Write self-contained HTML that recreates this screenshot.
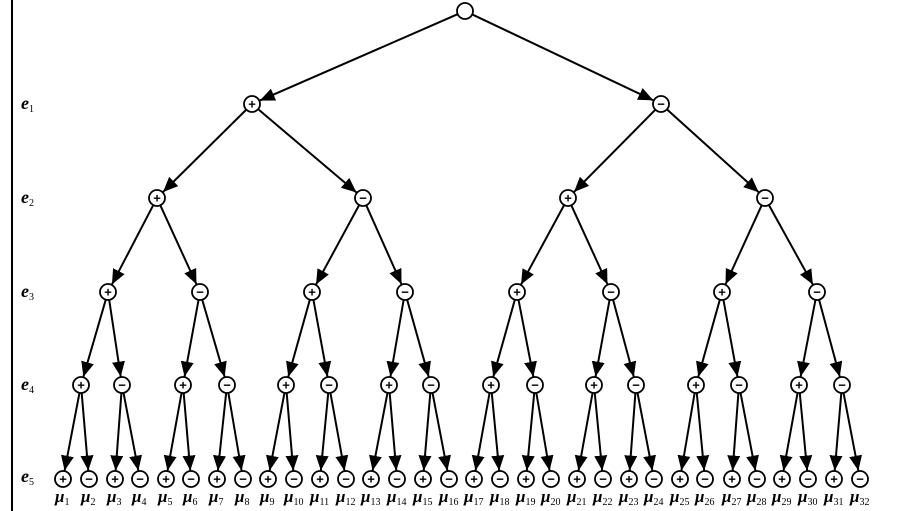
<!DOCTYPE html>
<html><head><meta charset="utf-8"><style>
html,body{margin:0;padding:0;background:#fff;}
svg{display:block;}
.e{font-family:"Liberation Serif",serif;font-weight:bold;font-style:italic;font-size:18px;}
.m{font-family:"Liberation Serif",serif;font-style:italic;font-weight:bold;font-size:17px;}
.s{font-size:10px;font-style:normal;font-weight:normal;}
</style></head><body>
<svg id="g" width="902" height="511" viewBox="0 0 902 511" xmlns="http://www.w3.org/2000/svg">
<defs><marker id="a" markerUnits="userSpaceOnUse" markerWidth="16" markerHeight="14" refX="15" refY="6.5" orient="auto"><path d="M0,0 L15,6.5 L0,13 z" fill="#000"/></marker></defs>
<line x1="12" y1="0" x2="12" y2="511" stroke="#000" stroke-width="2"/>
<text class="e" x="21" y="109">e<tspan class="s" dy="3">1</tspan></text>
<text class="e" x="21" y="203">e<tspan class="s" dy="3">2</tspan></text>
<text class="e" x="21" y="297">e<tspan class="s" dy="3">3</tspan></text>
<text class="e" x="21" y="390">e<tspan class="s" dy="3">4</tspan></text>
<text class="e" x="21" y="482">e<tspan class="s" dy="3">5</tspan></text>
<g id="mu" text-anchor="start">
<text class="m" x="55" y="502">μ<tspan class="s" dy="3">1</tspan></text>
<text class="m" x="81" y="502">μ<tspan class="s" dy="3">2</tspan></text>
<text class="m" x="107" y="502">μ<tspan class="s" dy="3">3</tspan></text>
<text class="m" x="132" y="502">μ<tspan class="s" dy="3">4</tspan></text>
<text class="m" x="158" y="502">μ<tspan class="s" dy="3">5</tspan></text>
<text class="m" x="183" y="502">μ<tspan class="s" dy="3">6</tspan></text>
<text class="m" x="209" y="502">μ<tspan class="s" dy="3">7</tspan></text>
<text class="m" x="235" y="502">μ<tspan class="s" dy="3">8</tspan></text>
<text class="m" x="260" y="502">μ<tspan class="s" dy="3">9</tspan></text>
<text class="m" x="284" y="502">μ<tspan class="s" dy="3">10</tspan></text>
<text class="m" x="310" y="502">μ<tspan class="s" dy="3">11</tspan></text>
<text class="m" x="336" y="502">μ<tspan class="s" dy="3">12</tspan></text>
<text class="m" x="361" y="502">μ<tspan class="s" dy="3">13</tspan></text>
<text class="m" x="387" y="502">μ<tspan class="s" dy="3">14</tspan></text>
<text class="m" x="413" y="502">μ<tspan class="s" dy="3">15</tspan></text>
<text class="m" x="439" y="502">μ<tspan class="s" dy="3">16</tspan></text>
<text class="m" x="464" y="502">μ<tspan class="s" dy="3">17</tspan></text>
<text class="m" x="490" y="502">μ<tspan class="s" dy="3">18</tspan></text>
<text class="m" x="516" y="502">μ<tspan class="s" dy="3">19</tspan></text>
<text class="m" x="541" y="502">μ<tspan class="s" dy="3">20</tspan></text>
<text class="m" x="567" y="502">μ<tspan class="s" dy="3">21</tspan></text>
<text class="m" x="593" y="502">μ<tspan class="s" dy="3">22</tspan></text>
<text class="m" x="619" y="502">μ<tspan class="s" dy="3">23</tspan></text>
<text class="m" x="644" y="502">μ<tspan class="s" dy="3">24</tspan></text>
<text class="m" x="670" y="502">μ<tspan class="s" dy="3">25</tspan></text>
<text class="m" x="695" y="502">μ<tspan class="s" dy="3">26</tspan></text>
<text class="m" x="722" y="502">μ<tspan class="s" dy="3">27</tspan></text>
<text class="m" x="747" y="502">μ<tspan class="s" dy="3">28</tspan></text>
<text class="m" x="772" y="502">μ<tspan class="s" dy="3">29</tspan></text>
<text class="m" x="798" y="502">μ<tspan class="s" dy="3">30</tspan></text>
<text class="m" x="824" y="502">μ<tspan class="s" dy="3">31</tspan></text>
<text class="m" x="850" y="502">μ<tspan class="s" dy="3">32</tspan></text>
</g>
</svg>
<script>
var L=[[465],[252,661],[157,363,568,765],[108,200,312,405,517,611,722,817],
[81,122,183,227,286,329,389,431,491,535,594,636,696,739,799,842],
[63,89,115,140,166,191,217,243,268,294,320,346,371,397,423,449,474,500,526,551,577,603,629,654,680,705,732,757,782,808,834,860]];
var Y=[11,104,198,292,385,479],R=8,NS="http://www.w3.org/2000/svg",g=document.getElementById('g');
function el(t,a,txt){var e=document.createElementNS(NS,t);for(var k in a)e.setAttribute(k,a[k]);if(txt)e.textContent=txt;g.appendChild(e);return e;}
for(var l=1;l<6;l++)for(var i=0;i<L[l].length;i++){
 var px=L[l-1][i>>1],py=Y[l-1],cx=L[l][i],cy=Y[l],dx=cx-px,dy=cy-py,d=Math.hypot(dx,dy);
 el('line',{x1:px+dx/d*R,y1:py+dy/d*R,x2:cx-dx/d*(R+0.5),y2:cy-dy/d*(R+0.5),stroke:'#000','stroke-width':2,'marker-end':'url(#a)'});
}
for(var l=0;l<6;l++)for(var i=0;i<L[l].length;i++){
 el('circle',{cx:L[l][i],cy:Y[l],r:R,fill:'#fff',stroke:'#000','stroke-width':1.8});
 if(l>0)el('text',{x:L[l][i],y:Y[l]+4.5,'text-anchor':'middle','font-family':'Liberation Sans, sans-serif','font-size':13,'font-weight':'bold'},i%2?'−':'+');
}
</script>
</body></html>
